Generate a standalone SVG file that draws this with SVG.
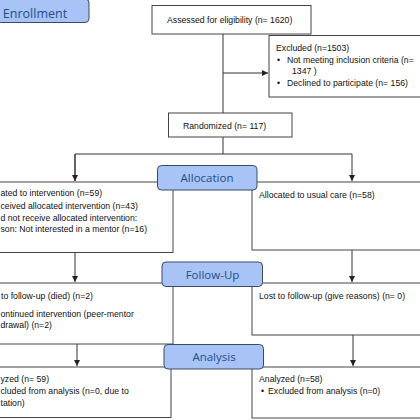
<svg xmlns="http://www.w3.org/2000/svg" width="420" height="420" viewBox="0 0 420 420">
<defs>
<marker id="arr" viewBox="0 0 10 10" refX="10" refY="5" markerWidth="6" markerHeight="6" orient="auto" markerUnits="userSpaceOnUse">
<path d="M0,0 L10,5 L0,10 z" fill="#222"/>
</marker>
<style>
.box{fill:#fff;stroke:#444;stroke-width:1}
.hdr{fill:#a8c4f6;stroke:#3b4a66;stroke-width:1}
.ht{font-family:"Open Sans","Liberation Sans",sans-serif;font-size:11.5px;fill:#1f4e8c;text-anchor:middle}
.t{font-family:"Liberation Sans",Arial,sans-serif;font-size:8.7px;fill:#111}
.ln{fill:none;stroke:#333;stroke-width:1}
</style>
</defs>
<rect width="420" height="420" fill="#fff"/>

<g id="connectors">
<path class="ln" d="M223,34 V113"/>
<path class="ln" d="M223,73 H268" marker-end="url(#arr)"/>
<path class="ln" d="M223,137 V154 H75 V181"/>
<path class="ln" d="M223,154 H352 V181" marker-end="url(#arr)"/>
<path class="ln" d="M75,154 V181" marker-end="url(#arr)"/>
<path class="ln" d="M75,252 V282" marker-end="url(#arr)"/>
<path class="ln" d="M352,250 V282" marker-end="url(#arr)"/>
<path class="ln" d="M77,344 V366" marker-end="url(#arr)"/>
<path class="ln" d="M353,335 V366" marker-end="url(#arr)"/>
</g>

<g id="assessed">
<rect class="box" x="152" y="5.5" width="159" height="28.5"/>
<text class="t" x="167" y="22.5">Assessed for eligibility (n= 1620)</text>
</g>

<g id="excluded">
<rect class="box" x="269" y="35.5" width="160" height="61.5"/>
<text class="t" x="276" y="51">Excluded (n=1503)</text>
<text class="t" x="277" y="63">•</text>
<text class="t" x="287" y="63">Not meeting inclusion criteria (n=</text>
<text class="t" x="292" y="74">1347 )</text>
<text class="t" x="277" y="85.5">•</text>
<text class="t" x="287" y="85.5">Declined to participate (n= 156)</text>
</g>

<g id="randomized">
<rect class="box" x="168.5" y="113" width="123.5" height="24"/>
<text class="t" x="183" y="128.5">Randomized (n= 117)</text>
</g>

<g id="alloc-intervention">
<rect class="box" x="-25" y="182" width="198" height="70.5"/>
<text class="t" x="0.5" y="196">ated to intervention (n=59)</text>
<text class="t" x="0.5" y="209">ceived allocated intervention (n=43)</text>
<text class="t" x="0.5" y="221">d not receive allocated intervention:</text>
<text class="t" x="0.5" y="232">son: Not interested in a mentor (n=16)</text>
</g>

<g id="alloc-usual">
<rect class="box" x="252" y="182" width="198" height="68"/>
<text class="t" x="259" y="198">Allocated to usual care (n=58)</text>
</g>

<g id="fu-intervention">
<rect class="box" x="-25" y="283" width="198" height="61"/>
<text class="t" x="1" y="299">to follow-up (died) (n=2)</text>
<text class="t" x="0.5" y="317">ontinued intervention (peer-mentor</text>
<text class="t" x="0.5" y="328">drawal) (n=2)</text>
</g>

<g id="fu-usual">
<rect class="box" x="252" y="283" width="198" height="52"/>
<text class="t" x="259" y="299">Lost to follow-up (give reasons) (n= 0)</text>
</g>

<g id="an-intervention">
<rect class="box" x="-25" y="367" width="196" height="50.5"/>
<text class="t" x="0.5" y="382">yzed (n= 59)</text>
<text class="t" x="0.5" y="393.5">cluded from analysis (n=0, due to</text>
<text class="t" x="0.5" y="406">tation)</text>
</g>

<g id="an-usual">
<rect class="box" x="252" y="367" width="198" height="51"/>
<text class="t" x="259" y="382">Analyzed (n=58)</text>
<text class="t" x="261" y="394">•</text>
<text class="t" x="268" y="394">Excluded from analysis (n=0)</text>
</g>

<g id="enrollment">
<rect class="hdr" x="-10" y="-1" width="99" height="23.5" rx="4"/>
<text class="ht" x="35" y="18" style="font-size:12.5px">Enrollment</text>
</g>

<g id="allocation">
<rect class="hdr" x="157.5" y="165.5" width="99.5" height="24.5" rx="4"/>
<text class="ht" x="207" y="182">Allocation</text>
</g>

<g id="followup">
<rect class="hdr" x="162" y="262" width="100.5" height="24.5" rx="4"/>
<text class="ht" x="212.5" y="278.5">Follow-Up</text>
</g>

<g id="analysis">
<rect class="hdr" x="164" y="344.5" width="99.5" height="24.5" rx="4"/>
<text class="ht" x="214" y="361">Analysis</text>
</g>
</svg>
